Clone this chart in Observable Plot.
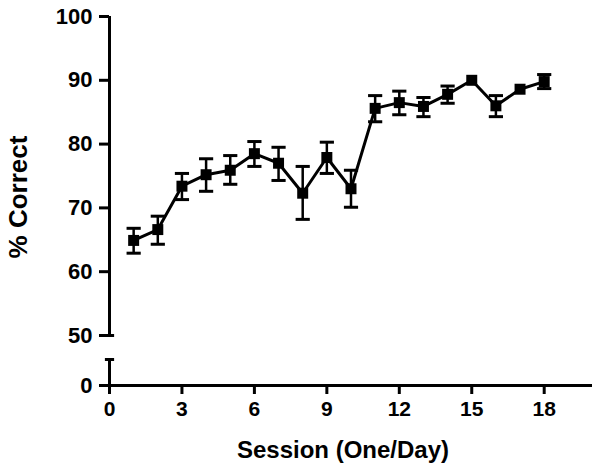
<!DOCTYPE html>
<html>
<head>
<meta charset="utf-8">
<script src="https://cdn.jsdelivr.net/npm/d3@7"></script>
<script src="https://cdn.jsdelivr.net/npm/@observablehq/plot@0.6"></script>
<style>
  html, body { margin: 0; padding: 0; background: #fff; }
</style>
</head>
<body>
<div id="chart"></div>
<script>
// ---- data ----
const sessions    = [1, 2, 3, 4, 5, 6, 7, 8, 9, 10, 11, 12, 13, 14, 15, 16, 17, 18];
const meanCorrect = [64.9, 66.6, 73.4, 75.2, 75.9, 78.5, 77.0, 72.3, 77.9, 73.0, 85.6, 86.5, 85.9, 87.8, 90.0, 86.0, 88.6, 89.8];
const errUpper    = [66.8, 68.7, 75.4, 77.7, 78.2, 80.4, 79.5, 76.5, 80.3, 75.9, 87.6, 88.3, 87.3, 89.1, 90.4, 87.6, 89.0, 90.9];
const errLower    = [62.9, 64.3, 71.3, 72.6, 73.7, 76.5, 74.3, 68.2, 75.4, 70.1, 83.5, 84.6, 84.3, 86.4, 89.6, 84.3, 88.2, 88.7];

const xTicks = [0, 3, 6, 9, 12, 15, 18];
const yTicks = [0, 50, 60, 70, 80, 90, 100];
const xLabel = "Session (One/Day)";
const yLabel = "% Correct";

// broken-axis layout: values below 50 are squeezed into a short stub
const yBreakHigh = 50;   // bottom of the main segment
const yBreakLow = 26;    // top of the stub that holds 0
const gapUnits = 7.84;   // display units used by the whole 0..50 stretch
const yBreak = v => v >= yBreakHigh ? v : yBreakHigh - gapUnits + v * gapUnits / yBreakHigh;
const yUnbreak = v => v >= yBreakHigh ? v : (v - (yBreakHigh - gapUnits)) * yBreakHigh / gapUnits;

const rows = sessions.map((s, i) => ({session: s, mean: meanCorrect[i], hi: errUpper[i], lo: errLower[i]}));
// error bars that would hide inside the square symbol are not drawn (as in the original)
const visibleErr = rows.filter(d => d.hi - d.mean > 0.85);

// horizontal line symbol (centered) for caps
const hline = {
  draw(context, size) {
    const w = Math.sqrt(size);
    context.moveTo(-w, 0);
    context.lineTo(w, 0);
  }
};

const W = 602, H = 474;
const mL = 109, mR = 10, mT = 16, mB = 89;
const font = "'Liberation Sans', Arial, sans-serif";

const chart = Plot.plot({
  width: W,
  height: H,
  marginLeft: mL,
  marginRight: mR,
  marginTop: mT,
  marginBottom: mB,
  style: {fontFamily: font, fontWeight: "bold", fontSize: "21px", color: "#000", background: "#fff"},
  x: {domain: [0, 20]},
  y: {transform: yBreak, domain: [yBreak(0), 100]},
  marks: [
    // axis lines (broken y axis)
    Plot.ruleY([0], {x1: 0, x2: 20, stroke: "#000", strokeWidth: 3}),
    Plot.ruleX([0], {y1: 0, y2: yBreakLow, stroke: "#000", strokeWidth: 3}),
    Plot.ruleX([0], {y1: yBreakHigh, y2: 100, stroke: "#000", strokeWidth: 3}),
    Plot.dot([yBreakLow, yBreakHigh], {x: () => 0, y: d => d, symbol: hline, r: 2.6, fill: "none", stroke: "#000", strokeWidth: 3}),
    // y axis: tick positions are given in the scale's (broken) display space
    Plot.axisY({ticks: yTicks.map(yBreak), tickFormat: v => String(Math.round(yUnbreak(v))), tickSize: 10, tickPadding: 7, strokeWidth: 3, fontSize: 22, fontWeight: "bold", label: null}),
    // x axis ticks and labels
    Plot.axisX({ticks: xTicks, tickSize: 9, tickPadding: 7, strokeWidth: 3, fontSize: 21, fontWeight: "bold", label: null}),
    // error bars
    Plot.ruleX(visibleErr, {x: "session", y1: "lo", y2: "hi", stroke: "#000", strokeWidth: 2.5}),
    Plot.dot(visibleErr, {x: "session", y: "hi", symbol: hline, r: 4, fill: "none", stroke: "#000", strokeWidth: 3}),
    Plot.dot(visibleErr, {x: "session", y: "lo", symbol: hline, r: 4, fill: "none", stroke: "#000", strokeWidth: 3}),
    // mean line and squares
    Plot.line(rows, {x: "session", y: "mean", stroke: "#000", strokeWidth: 3}),
    Plot.dot(rows, {x: "session", y: "mean", symbol: "square", r: 6.2, fill: "#000", stroke: "none"}),
    // axis titles
    Plot.text([xLabel], {frameAnchor: "bottom", text: d => d, dx: -8, dy: 65, textAnchor: "middle", lineAnchor: "middle", fontSize: 24, fontWeight: "bold"}),
    Plot.text([yLabel], {frameAnchor: "left", text: d => d, rotate: -90, dx: -91, dy: -4, textAnchor: "middle", lineAnchor: "middle", fontSize: 26, fontWeight: "bold"})
  ]
});

document.getElementById("chart").appendChild(chart);
</script>
</body>
</html>
